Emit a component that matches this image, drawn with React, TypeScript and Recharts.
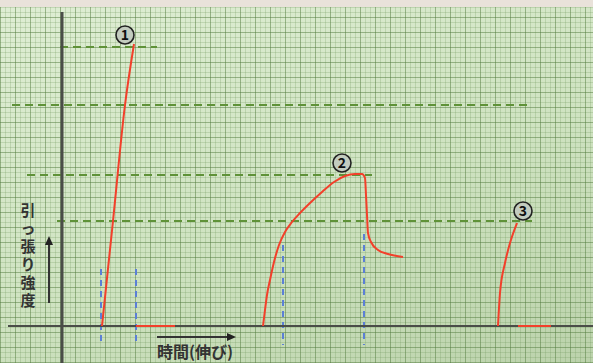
import { ComposedChart, Line, Scatter, XAxis, YAxis, Customized } from 'recharts';

// units: x = extension (time), y = tensile strength; origin at the axes crossing
const curve1 = [
  { x: 40, y: 0 },
  { x: 51, y: 105 },
  { x: 63, y: 221 },
  { x: 72, y: 282 },
];
const tail1 = [
  { x: 74, y: 0 },
  { x: 113, y: 0 },
];
const curve2 = [
  { x: 201, y: 0 },
  { x: 203, y: 16 },
  { x: 205, y: 31 },
  { x: 208, y: 46 },
  { x: 212, y: 64 },
  { x: 217, y: 81 },
  { x: 223, y: 94 },
  { x: 230, y: 104 },
  { x: 238, y: 113 },
  { x: 248, y: 123 },
  { x: 260, y: 134 },
  { x: 272, y: 144 },
  { x: 283, y: 150 },
  { x: 293, y: 152 },
  { x: 300, y: 152 },
  { x: 303, y: 148 },
  { x: 304, y: 131 },
  { x: 305, y: 111 },
  { x: 306, y: 93 },
  { x: 309, y: 84 },
  { x: 316, y: 76 },
  { x: 326, y: 72 },
  { x: 341, y: 69 },
];
const curve3 = [
  { x: 436, y: 0 },
  { x: 438, y: 33 },
  { x: 443, y: 63 },
  { x: 448, y: 83 },
  { x: 455, y: 103 },
];
const tail3 = [
  { x: 456, y: 0 },
  { x: 489, y: 0 },
];

// green dashed strength levels
const levelLines = [
  [{ x: -2, y: 279 }, { x: 95, y: 279 }],
  [{ x: -50, y: 221 }, { x: 468, y: 221 }],
  [{ x: -35, y: 151 }, { x: 310, y: 151 }],
  [{ x: -5, y: 105 }, { x: 470, y: 105 }],
];
// blue dashed markers
const markerLines = [
  [{ x: 39, y: 57 }, { x: 39, y: -19 }],
  [{ x: 74, y: 57 }, { x: 74, y: -19 }],
  [{ x: 221, y: 81 }, { x: 221, y: -19 }],
  [{ x: 302, y: 92 }, { x: 302, y: -19 }],
];
const yAxisLine = [{ x: 0, y: 314 }, { x: 0, y: -37 }];
const xAxisLine = [{ x: -54, y: 0 }, { x: 531, y: 0 }];

const badges = [
  { x: 63, y: 291, label: '1' },
  { x: 280, y: 163, label: '2' },
  { x: 461, y: 115, label: '3' },
];

const yTitle = ['引', 'っ', '張', 'り', '強', '度'];
const xTitle = '時間(伸び)';

const FONT = '"Noto Sans CJK JP", "Noto Sans", sans-serif';

const Badge = (props: any) => {
  const { cx, cy, payload } = props;
  return (
    <g>
      <circle cx={cx} cy={cy} r={9} fill="#c3ccbf" stroke="#222" strokeWidth={1.6} />
      <text x={cx} y={cy + 5} textAnchor="middle" fontSize={14} fontWeight={700} fill="#111" fontFamily={FONT}>
        {payload.label}
      </text>
    </g>
  );
};

const Titles = () => (
  <g fontFamily={FONT} fontWeight={700} fill="#333">
    {yTitle.map((c, i) => (
      <text key={i} x={28} y={216 + i * 18} textAnchor="middle" fontSize={15}>
        {c}
      </text>
    ))}
    <line x1={49} y1={303} x2={49} y2={242} stroke="#333" strokeWidth={2} />
    <polygon points="49,236 45,245 53,245" fill="#222" />
    <line x1={157} y1={337} x2={229} y2={337} stroke="#333" strokeWidth={2} />
    <polygon points="236,337 227,333 227,341" fill="#222" />
    <text x={157} y={358} fontSize={16}>
      {xTitle}
    </text>
  </g>
);

const paper: React.CSSProperties = {
  position: 'absolute',
  left: 0,
  top: 0,
  width: 593,
  height: 363,
  background: [
    'linear-gradient(#e9e2da, #e9e2da) top / 100% 7px no-repeat',
    'repeating-linear-gradient(90deg, rgba(80,120,60,0.38) 0 1px, transparent 1px 15px)',
    'repeating-linear-gradient(0deg, rgba(80,120,60,0.38) 0 1px, transparent 1px 15px)',
    'repeating-linear-gradient(90deg, rgba(110,150,90,0.25) 0 1px, transparent 1px 5px)',
    'repeating-linear-gradient(0deg, rgba(110,150,90,0.25) 0 1px, transparent 1px 5px)',
    'linear-gradient(160deg, #dfeed4 0%, #cfe3c1 55%, #bbd2ab 100%)',
  ].join(', '),
};

const red = '#f2402b';
const green = '#5f9238';
const blue = '#5b7fd6';

export default function App() {
  return (
    <div style={paper}>
      <ComposedChart width={593} height={363} margin={{ top: 0, right: 0, bottom: 0, left: 0 }}>
        <XAxis type="number" dataKey="x" domain={[-62, 531]} hide allowDataOverflow />
        <YAxis type="number" dataKey="y" domain={[-37, 326]} hide allowDataOverflow />
        {levelLines.map((d, i) => (
          <Line key={'lv' + i} data={d} dataKey="y" stroke={green} strokeWidth={2} strokeDasharray="8 5" dot={false} activeDot={false} isAnimationActive={false} />
        ))}
        {markerLines.map((d, i) => (
          <Line key={'mk' + i} data={d} dataKey="y" stroke={blue} strokeWidth={2} strokeDasharray="6 5" dot={false} activeDot={false} isAnimationActive={false} />
        ))}
        <Line data={yAxisLine} dataKey="y" stroke="#4a4d48" strokeWidth={3} dot={false} activeDot={false} isAnimationActive={false} />
        <Line data={xAxisLine} dataKey="y" stroke="#4a4d48" strokeWidth={2} dot={false} activeDot={false} isAnimationActive={false} />
        <Line data={curve1} dataKey="y" type="monotone" stroke={red} strokeWidth={2} dot={false} activeDot={false} isAnimationActive={false} />
        <Line data={tail1} dataKey="y" stroke={red} strokeWidth={2} dot={false} activeDot={false} isAnimationActive={false} />
        <Line data={curve2} dataKey="y" type="monotone" stroke={red} strokeWidth={2} dot={false} activeDot={false} isAnimationActive={false} />
        <Line data={curve3} dataKey="y" type="monotone" stroke={red} strokeWidth={2} dot={false} activeDot={false} isAnimationActive={false} />
        <Line data={tail3} dataKey="y" stroke={red} strokeWidth={2} dot={false} activeDot={false} isAnimationActive={false} />
        <Scatter data={badges} dataKey="y" shape={Badge} isAnimationActive={false} />
        <Customized component={Titles} />
      </ComposedChart>
    </div>
  );
}
